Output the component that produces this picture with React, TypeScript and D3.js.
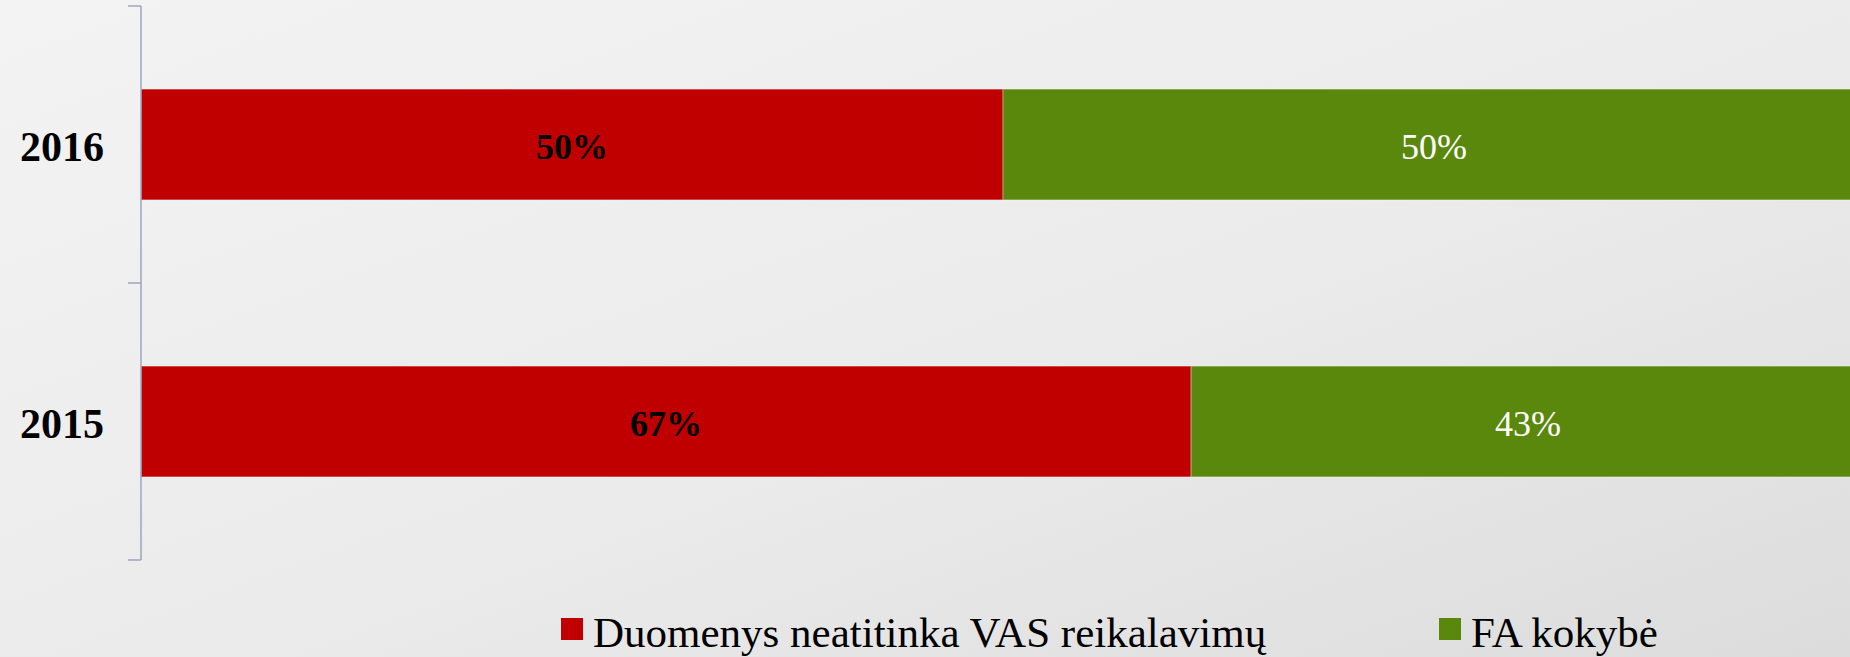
import React, { useEffect, useRef } from 'react';
import * as d3 from 'd3';

// chart data
const years = ['2016', '2015'];
const seriesNames = ['Duomenys neatitinka VAS reikalavimų', 'FA kokybė'];
const seriesKeys = ['vas', 'fa'];
const vasValues = [50, 67];
const faValues = [50, 43];
const seriesColors = ['#C00000', '#5A880C'];

const WIDTH = 1850;
const HEIGHT = 657;

const App = () => {
  const svgRef = useRef<SVGSVGElement>(null);

  useEffect(() => {
    if (!svgRef.current) return;
    const svg = d3.select(svgRef.current);
    svg.selectAll('*').remove();

    // background gradient
    const defs = svg.append('defs');
    const grad = defs.append('linearGradient')
      .attr('id', 'bg')
      .attr('x1', '0%').attr('y1', '0%')
      .attr('x2', '100%').attr('y2', '100%');
    grad.append('stop').attr('offset', '0%').attr('stop-color', '#f3f3f3');
    grad.append('stop').attr('offset', '55%').attr('stop-color', '#ebebeb');
    grad.append('stop').attr('offset', '100%').attr('stop-color', '#dcdcdc');
    svg.append('rect')
      .attr('width', WIDTH).attr('height', HEIGHT)
      .attr('fill', 'url(#bg)');

    const table = years.map((y, i) => ({ year: y, vas: vasValues[i], fa: faValues[i] }));
    const stacked = d3.stack<any>()
      .keys(seriesKeys)
      .offset(d3.stackOffsetExpand)(table);

    const left = 141;
    const plotRight = 1865; // plot area runs past the visible edge
    const top = 6;
    const bottom = 560;

    const x = d3.scaleLinear().domain([0, 1]).range([left, plotRight]);
    const y = d3.scaleBand().domain(years).range([top, bottom]).paddingInner(0.6).paddingOuter(0.3);

    const g = svg.append('g');

    stacked.forEach((layer, si) => {
      layer.forEach((d: any, i) => {
        const yr = years[i];
        g.append('rect')
          .attr('x', x(d[0]))
          .attr('y', y(yr)!)
          .attr('width', x(d[1]) - x(d[0]))
          .attr('height', y.bandwidth())
          .attr('fill', seriesColors[si])
          .attr('stroke', '#ffffff')
          .attr('stroke-opacity', 0.35)
          .attr('stroke-width', 1);

        const val = si === 0 ? vasValues[i] : faValues[i];
        g.append('text')
          .attr('x', (x(d[0]) + x(d[1])) / 2)
          .attr('y', y(yr)! + y.bandwidth() / 2)
          .attr('dy', '0.4em')
          .attr('text-anchor', 'middle')
          .style('font-family', '"Liberation Serif", "Times New Roman", serif')
          .style('font-size', '36px')
          .style('font-weight', si === 0 ? 'bold' : 'normal')
          .attr('fill', si === 0 ? '#000000' : '#ffffff')
          .text(val + '%');
      });
    });

    // category axis
    const axisColor = '#9ea6be';
    svg.append('line')
      .attr('x1', left).attr('x2', left)
      .attr('y1', top).attr('y2', bottom)
      .attr('stroke', axisColor).attr('stroke-width', 1.5);
    const tickYs = [top, (top + bottom) / 2, bottom];
    tickYs.forEach(ty => {
      svg.append('line')
        .attr('x1', left - 13).attr('x2', left)
        .attr('y1', ty).attr('y2', ty)
        .attr('stroke', axisColor).attr('stroke-width', 1.5);
    });
    years.forEach(yr => {
      svg.append('text')
        .attr('x', 104)
        .attr('y', y(yr)! + y.bandwidth() / 2)
        .attr('dy', '0.4em')
        .attr('text-anchor', 'end')
        .style('font-family', '"Liberation Serif", "Times New Roman", serif')
        .style('font-size', '42px')
        .style('font-weight', 'bold')
        .attr('fill', '#000')
        .text(yr);
    });

    // legend
    const legendX = [561, 1439];
    seriesNames.forEach((name, i) => {
      svg.append('rect')
        .attr('x', legendX[i]).attr('y', 618)
        .attr('width', 22).attr('height', 22)
        .attr('fill', seriesColors[i]);
      svg.append('text')
        .attr('x', legendX[i] + 32)
        .attr('y', 647)
        .style('font-family', '"Liberation Serif", "Times New Roman", serif')
        .style('font-size', '43px')
        .attr('fill', '#000')
        .text(name);
    });
  }, []);

  return (
    <div style={{ position: 'fixed', left: 0, top: 0, width: WIDTH, height: HEIGHT }}>
      <svg ref={svgRef} width={WIDTH} height={HEIGHT} style={{ display: 'block' }}></svg>
    </div>
  );
};

export default App;
